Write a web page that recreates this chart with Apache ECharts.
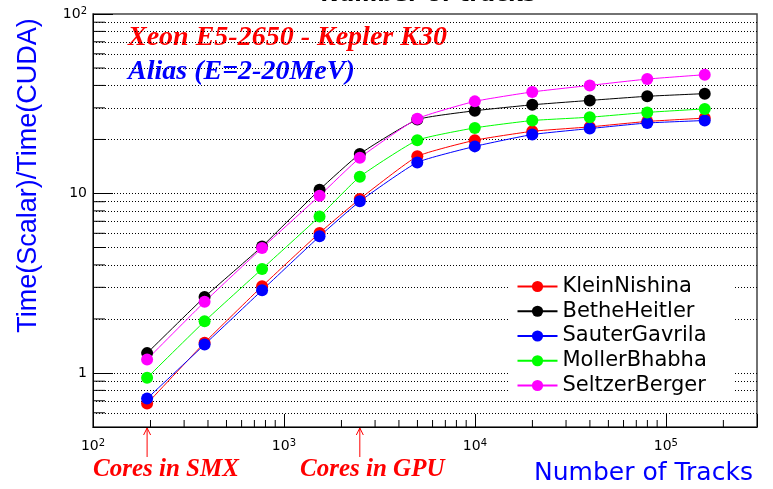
<!DOCTYPE html>
<html>
<head>
<meta charset="utf-8">
<script src="https://cdn.jsdelivr.net/npm/echarts@6.0.0/dist/echarts.min.js"></script>
<style>
  html, body { margin: 0; padding: 0; background: #fff; }
  #main { width: 773px; height: 489px; }
</style>
</head>
<body>
<div id="main"></div>
<script>
// number of tracks (x) and speedup per model (y)
const tracks = [192, 384, 768, 1536, 2496, 4992, 9984, 19968, 39936, 79872, 159744];
const kleinNishina = [0.675, 1.475, 3.04, 6.03, 9.32, 16.1, 19.8, 22.2, 23.5, 25.2, 26.3];
const betheHeitler = [1.29, 2.65, 5.07, 10.5, 16.6, 25.8, 28.9, 31.2, 33.0, 34.8, 36.0];
const sauterGavrila = [0.72, 1.44, 2.89, 5.77, 9.04, 14.9, 18.3, 21.3, 23.0, 24.7, 25.5];
const mollerBhabha = [0.94, 1.94, 3.80, 7.45, 12.4, 19.8, 23.2, 25.5, 26.6, 28.3, 29.6];
const seltzerBerger = [1.19, 2.49, 4.97, 9.72, 15.8, 26.1, 32.6, 36.8, 40.0, 43.4, 45.9];

// arrows under the x axis
const coresMarks = [192, 2496];

const xMin = 100, xMax = 300000;
const yMin = 0.5, yMax = 100;

// minor ticks (2..9 per decade), ROOT style
const yMinor = [0.6, 0.7, 0.8, 0.9, 2, 3, 4, 5, 6, 7, 8, 9, 20, 30, 40, 50, 60, 70, 80, 90];
const yGrid = [0.6, 0.7, 0.8, 0.9, 1, 2, 3, 4, 5, 6, 7, 8, 9, 10, 20, 30, 40, 50, 60, 70, 80, 90];
const xMinor = [200, 300, 400, 500, 600, 700, 800, 900,
  2000, 3000, 4000, 5000, 6000, 7000, 8000, 9000,
  20000, 30000, 40000, 50000, 60000, 70000, 80000, 90000, 200000];

var chartDom = document.getElementById("main");
var myChart = echarts.init(chartDom, null, { renderer: "canvas" });

function powLabel(value, showPlain) {
    var e = Math.round(Math.log10(value));
    if (Math.abs(Math.log10(value) - e) > 1e-6) return "";
    if (showPlain && e === 0) return "{b|1}";
    if (showPlain && e === 1) return "{b|10}";
    return "{b|10}{s|" + e + "}";
}

const labelRich = {
    b: { fontFamily: "DejaVu Sans", fontSize: 14, lineHeight: 16, color: "#000" },
    s: { fontFamily: "DejaVu Sans", fontSize: 10, lineHeight: 10, verticalAlign: "top", color: "#000" },
};

function lineSeries(name, values, color) {
    return {
        name: name,
        type: "line",
        data: tracks.map((t, i) => [t, values[i]]),
        symbol: "circle",
        symbolSize: 12,
        smooth: 0.15,
        lineStyle: { color: color, width: 1 },
        itemStyle: { color: color },
        z: 3,
    };
}

var option = {
    animation: false,
    backgroundColor: "#fff",
    grid: {
        left: 93,
        right: 16,
        top: 14,
        bottom: 62,
        show: true,
        borderColor: "#444",
        borderWidth: 1.5,
    },
    xAxis: {
        type: "log",
        logBase: 10,
        min: xMin,
        max: xMax,
        axisLine: { lineStyle: { color: "#000", width: 1 } },
        axisTick: { inside: true, length: 13 },
        splitLine: { show: false },
        axisLabel: {
            margin: 11,
            formatter: (v) => powLabel(v, false),
            rich: labelRich,
        },
    },
    yAxis: {
        type: "log",
        logBase: 10,
        min: yMin,
        max: yMax,
        axisLine: { lineStyle: { color: "#000", width: 1 } },
        axisTick: { inside: true, length: 20 },
        splitLine: { show: false },
        axisLabel: {
            margin: 6,
            formatter: (v) => powLabel(v, true),
            rich: labelRich,
        },
    },
    legend: {
        data: ["KleinNishina", "BetheHeitler", "SauterGavrila", "MollerBhabha", "SeltzerBerger"],
        orient: "vertical",
        left: 509.5,
        top: 270,
        padding: [6, 28, 2, 7],
        itemWidth: 40,
        itemHeight: 14,
        itemGap: 3.75,
        backgroundColor: "#fff",
        selectedMode: false,
        textStyle: { fontFamily: "DejaVu Sans", fontSize: 21, lineHeight: 21, color: "#000" },
    },
    graphic: [
        {
            type: "text", x: 428, y: -5,
            style: { text: "Number of tracks", font: 'bold 22px "DejaVu Sans"', fill: "#000", align: "center", verticalAlign: "middle" },
        },
        {
            type: "text", x: 29, y: 175.5, rotation: Math.PI / 2,
            style: { text: "Time(Scalar)/Time(CUDA)", font: '27px "Liberation Sans"', fill: "#0000ff", align: "center", verticalAlign: "middle" },
        },
        {
            type: "text", x: 643.5, y: 473,
            style: { text: "Number of Tracks", font: '25px "DejaVu Sans"', fill: "#0000ff", align: "center", verticalAlign: "middle" },
        },
        {
            type: "text", x: 128, y: 38,
            style: { text: "Xeon E5-2650 - Kepler K30", font: 'italic bold 28px "Liberation Serif"', fill: "#ff0000", align: "left", verticalAlign: "middle" },
        },
        {
            type: "text", x: 128, y: 72,
            style: { text: "Alias (E=2-20MeV)", font: 'italic bold 28px "Liberation Serif"', fill: "#0000ff", align: "left", verticalAlign: "middle" },
        },
        {
            type: "text", x: 93, y: 470,
            style: { text: "Cores in SMX", font: 'italic bold 25px "Liberation Serif"', fill: "#ff0000", align: "left", verticalAlign: "middle" },
        },
        {
            type: "text", x: 300, y: 470,
            style: { text: "Cores in GPU", font: 'italic bold 25px "Liberation Serif"', fill: "#ff0000", align: "left", verticalAlign: "middle" },
        },
    ],
    series: [
        // dotted horizontal grid
        {
            name: "grid",
            type: "line",
            data: [],
            silent: true,
            markLine: {
                silent: true,
                z: 1,
                symbol: "none",
                label: { show: false },
                lineStyle: { color: "#000", width: 1, type: [1, 2] },
                emphasis: { disabled: true },
                data: yGrid.map((v) => ({ yAxis: v })),
            },
        },
        // minor ticks on the y axis
        {
            type: "custom",
            silent: true,
            clip: false,
            data: yMinor.map((v) => [xMin, v]),
            renderItem: function (params, api) {
                var p = api.coord([api.value(0), api.value(1)]);
                return {
                    type: "line",
                    shape: { x1: p[0], y1: p[1], x2: p[0] + 12, y2: p[1] },
                    style: { stroke: "#000", lineWidth: 1 },
                };
            },
            z: 2,
        },
        // minor ticks on the x axis
        {
            type: "custom",
            silent: true,
            clip: false,
            data: xMinor.map((v) => [v, yMin]),
            renderItem: function (params, api) {
                var p = api.coord([api.value(0), api.value(1)]);
                return {
                    type: "line",
                    shape: { x1: p[0], y1: p[1], x2: p[0], y2: p[1] - 7 },
                    style: { stroke: "#000", lineWidth: 1 },
                };
            },
            z: 2,
        },
        // arrows marking the core counts
        {
            type: "custom",
            silent: true,
            clip: false,
            data: coresMarks.map((v) => [v, yMin]),
            renderItem: function (params, api) {
                var p = api.coord([api.value(0), api.value(1)]);
                return {
                    type: "group",
                    children: [
                        {
                            type: "line",
                            shape: { x1: p[0], y1: p[1] + 1, x2: p[0], y2: p[1] + 30 },
                            style: { stroke: "#ff0000", lineWidth: 1 },
                        },
                        {
                            type: "polyline",
                            shape: { points: [[p[0] - 3.5, p[1] + 8], [p[0], p[1] + 1], [p[0] + 3.5, p[1] + 8]] },
                            style: { stroke: "#ff0000", lineWidth: 1, fill: null },
                        },
                    ],
                };
            },
            z: 2,
        },
        lineSeries("KleinNishina", kleinNishina, "#ff0000"),
        lineSeries("BetheHeitler", betheHeitler, "#000000"),
        lineSeries("SauterGavrila", sauterGavrila, "#0000ff"),
        lineSeries("MollerBhabha", mollerBhabha, "#00ff00"),
        lineSeries("SeltzerBerger", seltzerBerger, "#ff00ff"),
    ],
};

option && myChart.setOption(option);
window.addEventListener("resize", function () {
    myChart.resize();
});
</script>
</body>
</html>
